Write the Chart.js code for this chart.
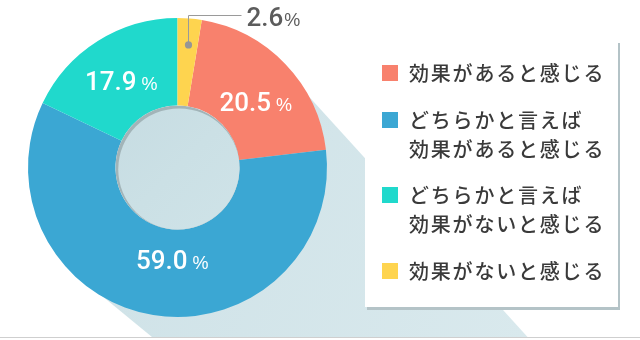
<!DOCTYPE html>
<html lang="ja">
<head>
<meta charset="utf-8">
<script src="https://cdn.jsdelivr.net/npm/chart.js@4.4.1/dist/chart.umd.min.js"></script>
<style>
  html, body { margin: 0; padding: 0; background: #fff; }
  #wrap { position: relative; width: 640px; height: 340px; overflow: hidden; }
  #pie { position: absolute; left: 0; top: 0; }
  #legend {
    position: absolute; left: 365px; top: 40px; width: 253px; height: 267px;
    box-sizing: border-box; margin: 0; padding: 18px 0 0 0; list-style: none;
    background: #fff; box-shadow: 2px 3px 0 #b4c3c7;
    font-family: "Noto Sans CJK JP", sans-serif; font-weight: 500; font-size: 20px;
    letter-spacing: 1.8px; color: #3a3a3a;
  }
  #legend li { position: relative; padding-left: 44px; line-height: 29px; margin-bottom: 17.5px; white-space: nowrap; }
  #legend .sw { position: absolute; left: 17px; top: 7px; width: 16px; height: 16px; }
  #baseline { position: absolute; left: 0; top: 337px; width: 640px; height: 1px; background: #cfcfcf; }
</style>
</head>
<body>
<div id="wrap">
  <canvas id="pie" width="640" height="340"></canvas>
  <ul id="legend"></ul>
  <div id="baseline"></div>
</div>
<script>
// 回答の割合 (%)
const labelLines = [
  ['効果があると感じる'],
  ['どちらかと言えば', '効果があると感じる'],
  ['どちらかと言えば', '効果がないと感じる'],
  ['効果がないと感じる']
];
const shares = [20.5, 59.0, 17.9, 2.6];
const sliceColors = ['#f8816d', '#3ba7d3', '#20d9cc', '#fed44f'];

// 凡例 (HTML)
const legendEl = document.getElementById('legend');
labelLines.forEach((lines, i) => {
  const li = document.createElement('li');
  const sw = document.createElement('span');
  sw.className = 'sw';
  sw.style.background = sliceColors[i];
  li.appendChild(sw);
  lines.forEach((t, k) => {
    if (k > 0) li.appendChild(document.createElement('br'));
    li.appendChild(document.createTextNode(t));
  });
  legendEl.appendChild(li);
});

const total = shares.reduce((a, b) => a + b, 0);
// 最後の項目 (黄色) が真上から始まるように回転
const startRotation = shares[shares.length - 1] / total * 360;

// ラベル位置の微調整 (px)
const labelNudge = [[6, 3], [11, -7], [-3, -2], [0, 0]];

function unit(dx, dy) {
  const l = Math.hypot(dx, dy);
  return [dx / l, dy / l];
}

const numFont = '500 26px Roboto';
const pctFont = '18px "Liberation Sans"';

const decor = {
  id: 'decor',
  beforeDatasetsDraw(chart) {
    // 右下に伸びる長い影
    const arc = chart.getDatasetMeta(0).data[0];
    const { x, y, outerRadius: r } = arc.getProps(['x', 'y', 'outerRadius'], true);
    const ctx = chart.ctx;
    const floor = 337;
    const dU = unit(1, 1.10);
    const dL = unit(1, 0.82);
    const tU = [x + dU[1] * r * 0.97, y - dU[0] * r * 0.97];
    const tL = [x - dL[1] * r * 0.985, y + dL[0] * r * 0.985];
    const fU = [tU[0] + (floor - tU[1]) / dU[1] * dU[0], floor];
    const fL = [tL[0] + (floor - tL[1]) / dL[1] * dL[0], floor];
    ctx.save();
    const g = ctx.createLinearGradient(x, y, fU[0], floor);
    g.addColorStop(0, '#d0e3e8');
    g.addColorStop(1, '#d9e9ed');
    ctx.fillStyle = g;
    ctx.beginPath();
    ctx.moveTo(tU[0], tU[1]);
    ctx.lineTo(fU[0], fU[1]);
    ctx.lineTo(fL[0], fL[1]);
    ctx.lineTo(tL[0], tL[1]);
    ctx.closePath();
    ctx.fill();
    ctx.restore();
  },
  afterDatasetsDraw(chart) {
    const ctx = chart.ctx;
    const meta = chart.getDatasetMeta(0);
    const a0 = meta.data[0].getProps(['x', 'y', 'innerRadius', 'outerRadius'], true);
    const cx = a0.x, cy = a0.y, ir = a0.innerRadius, or = a0.outerRadius;

    // 中央の穴
    ctx.save();
    ctx.beginPath();
    ctx.arc(cx, cy, ir, 0, Math.PI * 2);
    ctx.clip();
    ctx.fillStyle = '#a2b4b8';
    ctx.fillRect(cx - ir, cy - ir, ir * 2, ir * 2);
    const hg = ctx.createLinearGradient(cx - ir, cy - ir, cx + ir, cy + ir);
    hg.addColorStop(0, '#c6dce2');
    hg.addColorStop(0.5, '#cbe0e5');
    hg.addColorStop(1, '#cfe3e8');
    ctx.fillStyle = hg;
    ctx.beginPath();
    ctx.arc(cx + 1.6, cy + 1.8, ir - 1.2, 0, Math.PI * 2);
    ctx.fill();
    ctx.restore();

    // 割合ラベル
    meta.data.forEach((arc, i) => {
      const p = arc.getProps(['startAngle', 'endAngle'], true);
      const mid = (p.startAngle + p.endAngle) / 2;
      const num = shares[i].toFixed(1);
      ctx.save();
      ctx.textBaseline = 'alphabetic';
      ctx.textAlign = 'left';
      if (shares[i] >= 5) {
        const lx = cx + Math.cos(mid) * 100 + labelNudge[i][0];
        const ly = cy + Math.sin(mid) * 100 + labelNudge[i][1];
        ctx.font = numFont;
        const w1 = ctx.measureText(num).width;
        ctx.font = pctFont;
        const w2 = ctx.measureText('%').width;
        const gap = 5;
        const sx = lx - (w1 + gap + w2) / 2;
        const base = ly + 9.5;
        ctx.fillStyle = '#ffffff';
        ctx.font = numFont;
        ctx.fillText(num, sx, base);
        ctx.font = pctFont;
        ctx.fillText('%', sx + w1 + gap, base);
      } else {
        // 小さい項目は引き出し線で外側に
        const dx = Math.round(cx + Math.cos(mid) * (or - 26.5)) + 0.5;
        const dy = cy + Math.sin(mid) * (or - 26.5);
        const ty = Math.round(cy - or - 3) + 0.5;
        const tx = dx + 53;
        ctx.strokeStyle = '#9a9a9a';
        ctx.lineWidth = 1;
        ctx.beginPath();
        ctx.moveTo(dx, dy);
        ctx.lineTo(dx, ty);
        ctx.lineTo(tx, ty);
        ctx.stroke();
        ctx.fillStyle = '#969696';
        ctx.beginPath();
        ctx.arc(dx, dy, 3.6, 0, Math.PI * 2);
        ctx.fill();
        ctx.fillStyle = '#5c5c5c';
        ctx.font = numFont;
        const w1 = ctx.measureText(num).width;
        ctx.fillText(num, tx + 5, ty + 10);
        ctx.font = pctFont;
        ctx.fillText('%', tx + 5 + w1 + 1, ty + 10);
      }
      ctx.restore();
    });
  }
};

new Chart(document.getElementById('pie'), {
  type: 'doughnut',
  data: {
    labels: labelLines.map(l => l.join('')),
    datasets: [{
      data: shares,
      backgroundColor: sliceColors,
      borderWidth: 0,
      hoverOffset: 0
    }]
  },
  options: {
    responsive: false,
    animation: false,
    rotation: startRotation,
    cutout: '41.5%',
    layout: { padding: { left: 28, right: 313, top: 18, bottom: 23 } },
    plugins: {
      legend: { display: false },
      tooltip: { enabled: false }
    }
  },
  plugins: [decor]
});
</script>
</body>
</html>
